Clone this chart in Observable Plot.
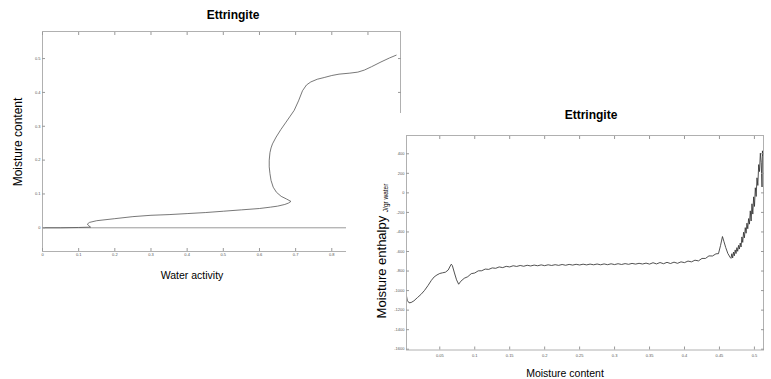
<!DOCTYPE html>
<html><head><meta charset="utf-8">
<script src="https://cdn.jsdelivr.net/npm/d3@7"></script>
<script src="https://cdn.jsdelivr.net/npm/@observablehq/plot@0.6"></script>
<style>
html,body{margin:0;padding:0;background:#fff;}
#wrap{position:relative;width:771px;height:379px;overflow:hidden;background:#fff;font-family:"Liberation Sans",Arial,sans-serif;}
#left,#right{position:absolute;line-height:0;}
#left{left:0;top:0;z-index:1;}
#right{left:346px;top:113px;z-index:2;background:#fff;}
.lbl{position:absolute;white-space:nowrap;color:#000;transform:translate(-50%,-50%);z-index:3;line-height:1;}
.rot{transform:translate(-50%,-50%) rotate(-90deg);}
</style></head><body>
<div id="wrap">
  <div id="left"></div>
  <div id="right"></div>
  <div class="lbl" style="left:233px;top:15px;font-weight:bold;font-size:12px">Ettringite</div>
  <div class="lbl rot" style="left:18px;top:142px;font-size:12px">Moisture content</div>
  <div class="lbl" style="left:192px;top:275px;font-size:10.5px">Water activity</div>
  <div class="lbl" style="left:591px;top:115px;font-weight:bold;font-size:12px">Ettringite</div>
  <div class="lbl" style="left:565px;top:373px;font-size:10.5px">Moisture content</div>
  <div class="lbl rot" style="left:381px;top:251px;font-size:13px">Moisture enthalpy <span style="font-size:6.5px;position:relative;top:2px">J/gr water</span></div>
</div>
<script>
// ---- Left chart: sorption isotherm ----
const awValues = [0, 0.05, 0.10, 0.133, 0.128, 0.124, 0.13, 0.15, 0.2, 0.25, 0.3, 0.35, 0.4, 0.45, 0.5, 0.55, 0.6, 0.63, 0.65, 0.67, 0.68, 0.687, 0.675, 0.66, 0.647, 0.638, 0.632, 0.629, 0.627, 0.627, 0.629, 0.632, 0.636, 0.646, 0.659, 0.672, 0.685, 0.696, 0.708, 0.719, 0.73, 0.742, 0.76, 0.779, 0.8, 0.82, 0.85, 0.872, 0.89, 0.91, 0.936, 0.96, 0.978];
const mcValues = [0, 0, 0.001, 0.002, 0.006, 0.011, 0.016, 0.021, 0.027, 0.033, 0.037, 0.039, 0.042, 0.045, 0.049, 0.053, 0.057, 0.061, 0.064, 0.069, 0.073, 0.078, 0.085, 0.093, 0.105, 0.12, 0.14, 0.16, 0.18, 0.2, 0.222, 0.236, 0.248, 0.268, 0.29, 0.31, 0.33, 0.347, 0.375, 0.405, 0.422, 0.431, 0.439, 0.444, 0.45, 0.454, 0.457, 0.46, 0.466, 0.476, 0.49, 0.502, 0.51];
const awTicks = [0, 0.1, 0.2, 0.3, 0.4, 0.5, 0.6, 0.7, 0.8, 0.9];
const mcTicks = [0, 0.1, 0.2, 0.3, 0.4, 0.5];

// ---- Right chart: moisture enthalpy ----
const moistX = [0.0025, 0.0035, 0.006, 0.009, 0.013, 0.018, 0.023, 0.028, 0.033, 0.038, 0.042, 0.046, 0.050, 0.054, 0.058, 0.062, 0.065, 0.0665, 0.068, 0.071, 0.074, 0.077,
  0.080, 0.085, 0.090, 0.095, 0.100, 0.105, 0.110, 0.115, 0.120, 0.125, 0.130, 0.135, 0.140, 0.145, 0.150, 0.155, 0.160, 0.165, 0.170, 0.175, 0.180, 0.185, 0.190, 0.195,
  0.200, 0.205, 0.210, 0.215, 0.220, 0.225, 0.230, 0.235, 0.240, 0.245, 0.250, 0.255, 0.260, 0.265, 0.270, 0.275, 0.280, 0.285, 0.290, 0.295,
  0.300, 0.305, 0.310, 0.315, 0.320, 0.325, 0.330, 0.335, 0.340, 0.345, 0.350, 0.355, 0.360, 0.365, 0.370, 0.375, 0.380, 0.385, 0.390, 0.395,
  0.400, 0.405, 0.410, 0.415, 0.420, 0.425, 0.430, 0.435, 0.440, 0.445, 0.4486, 0.4515, 0.4543, 0.4565, 0.4590, 0.4620, 0.4653,
  0.4665, 0.4677, 0.4689, 0.4701, 0.4713, 0.4725, 0.4737, 0.4749, 0.4761, 0.4773, 0.4785, 0.4797, 0.4809, 0.4821, 0.4833, 0.4845, 0.4857, 0.4869, 0.4881, 0.4893,
  0.4905, 0.4917, 0.4929, 0.4941, 0.4953, 0.4965, 0.4977, 0.4989, 0.5001, 0.5013, 0.5025, 0.5037, 0.5049, 0.5061, 0.5073, 0.5085, 0.5097, 0.5109, 0.5115, 0.5121, 0.5125];
const enthalpyY = [-1060, -1100, -1125, -1122, -1105, -1072, -1040, -1000, -950, -895, -860, -840, -825, -818, -812, -790, -748, -730, -745, -820, -890, -935,
  -905, -874, -858, -827, -820, -798, -797, -780, -783, -768, -772, -758, -765, -752, -758, -746, -753, -743, -751, -741, -748, -739, -746, -737,
  -745, -736, -743, -735, -742, -733, -741, -732, -739, -731, -738, -730, -737, -729, -736, -728, -736, -727, -735, -726,
  -734, -725, -733, -724, -731, -722, -729, -721, -728, -719, -729, -715, -727, -713, -725, -711, -723, -709, -721, -706,
  -714, -698, -706, -689, -696, -671, -671, -645, -646, -624, -622, -540, -447, -500, -560, -620, -660,
  -670, -623, -666, -606, -644, -584, -621, -561, -598, -537, -575, -514, -554, -451, -507, -403, -460, -356, -413, -310,
  -367, -263, -320, -184, -288, -112, -217, -41, -139, 52, -37, 154, 76, 289, 218, 406, 311, 60, 430, 380, 420];
const moistTicks = [0.05, 0.1, 0.15, 0.2, 0.25, 0.3, 0.35, 0.4, 0.45, 0.5];
const enthalpyTicks = [400, 200, 0, -200, -400, -600, -800, -1000, -1200, -1400, -1600];

const isotherm = awValues.map((aw, i) => ({aw, mc: mcValues[i]}));
const enthalpy = moistX.map((x, i) => ({x, y: enthalpyY[i]}));
const blank = () => "";
const fmt = d => String(d);
const font = "Liberation Sans, Arial, sans-serif";

const leftPlot = Plot.plot({
  width: 405, height: 290,
  marginLeft: 42, marginRight: 5, marginTop: 31, marginBottom: 39,
  x: {domain: [0, 0.99]},
  y: {domain: [-0.07, 0.58]},
  style: {background: "transparent", color: "#555", fontFamily: font},
  marks: [
    Plot.ruleY([0], {stroke: "#999", strokeWidth: 1}),
    Plot.line(isotherm, {x: "aw", y: "mc", stroke: "#555", strokeWidth: 0.8}),
    Plot.frame({stroke: "#b0b0b0"}),
    Plot.axisX(awTicks, {anchor: "bottom", tickSize: -3, tickFormat: blank, label: null, stroke: "#999"}),
    Plot.axisX(awTicks, {anchor: "bottom", tickSize: 0, tickPadding: 2, fontSize: 4, tickFormat: fmt, label: null}),
    Plot.axisX(awTicks, {anchor: "top", tickSize: -3, tickFormat: blank, label: null, stroke: "#999"}),
    Plot.axisY(mcTicks, {anchor: "left", tickSize: -3, tickFormat: blank, label: null, stroke: "#999"}),
    Plot.axisY(mcTicks, {anchor: "left", tickSize: 0, tickPadding: 2, fontSize: 4, tickFormat: fmt, label: null}),
    Plot.axisY(mcTicks, {anchor: "right", tickSize: -3, tickFormat: blank, label: null, stroke: "#999"})
  ]
});
document.getElementById("left").appendChild(leftPlot);

const rightPlot = Plot.plot({
  width: 425, height: 266,
  marginLeft: 60, marginRight: 8, marginTop: 22, marginBottom: 29.5,
  x: {domain: [0.0024, 0.513]},
  y: {domain: [-1608, 587]},
  style: {background: "#fff", color: "#555", fontFamily: font},
  marks: [
    Plot.line(enthalpy, {x: "x", y: "y", stroke: "#333", strokeWidth: 0.85}),
    Plot.frame({stroke: "#b0b0b0"}),
    Plot.axisX(moistTicks, {anchor: "bottom", tickSize: -3, tickFormat: blank, label: null, stroke: "#999"}),
    Plot.axisX(moistTicks, {anchor: "bottom", tickSize: 0, tickPadding: 4, fontSize: 4, tickFormat: fmt, label: null}),
    Plot.axisX(moistTicks, {anchor: "top", tickSize: -3, tickFormat: blank, label: null, stroke: "#999"}),
    Plot.axisY(enthalpyTicks, {anchor: "left", tickSize: -3, tickFormat: blank, label: null, stroke: "#999"}),
    Plot.axisY(enthalpyTicks, {anchor: "left", tickSize: 0, tickPadding: 2, fontSize: 4, tickFormat: fmt, label: null}),
    Plot.axisY(enthalpyTicks, {anchor: "right", tickSize: -3, tickFormat: blank, label: null, stroke: "#999"})
  ]
});
document.getElementById("right").appendChild(rightPlot);
</script>
</body></html>
